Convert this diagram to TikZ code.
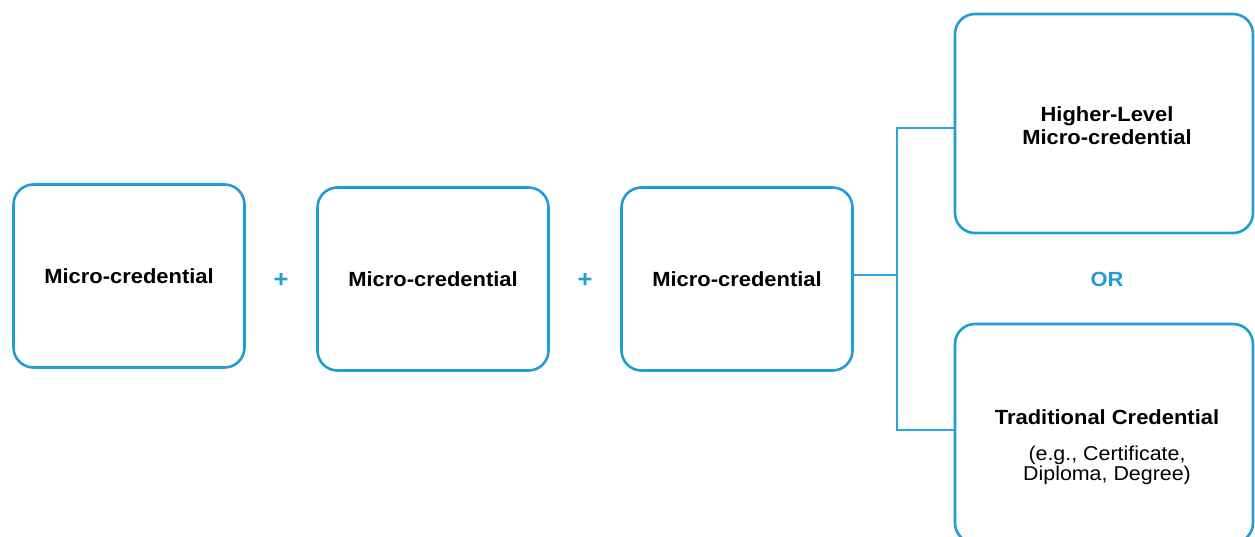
\documentclass[tikz,border=0pt]{standalone}
\usepackage{fontspec}
\setmainfont{Liberation Sans}[FakeStretch=1.07]
\usetikzlibrary{positioning}
\definecolor{credblue}{RGB}{35,155,215}
\definecolor{linkblue}{RGB}{45,165,225}

\begin{document}
\begin{tikzpicture}[x=1pt, y=-1pt,
    credbox/.style={draw=credblue, line width=2.6pt, rounded corners=20pt,
        minimum width=231pt, minimum height=183pt, inner sep=0pt,
        font=\fontsize{20.5}{22.5}\selectfont\bfseries, align=center},
    bigbox/.style={credbox, minimum width=298pt, minimum height=219pt},
    plussign/.style={text=credblue, font=\fontsize{24}{24}\selectfont\bfseries},
    link/.style={draw=linkblue, line width=2pt}]
    \useasboundingbox (0,0) rectangle (1255,537);

    % three stacked micro-credentials
    \node[credbox] (mc1) at (129,276) {Micro-credential};
    \node[credbox] (mc2) at (433,279) {Micro-credential};
    \node[credbox] (mc3) at (737,279) {Micro-credential};
    \node[plussign] (plus1) at (281,280) {+};
    \node[plussign] (plus2) at (585,280) {+};

    % the two possible outcomes
    \node[bigbox] (higher) at (1104,123.5) {};
    \node[font=\fontsize{20.5}{22.5}\selectfont\bfseries, align=center] (highername) at (1107,125.5) {Higher-Level\\Micro-credential};
    \node[bigbox] (trad) at (1104,433.5) {};
    \node[font=\fontsize{20.5}{22.5}\selectfont\bfseries] (tradname) at (1107,417.5) {Traditional Credential};
    \node[font=\fontsize{20}{20}\selectfont, align=center] (tradnote) at (1107,465) {(e.g., Certificate,\\Diploma, Degree)};
    \node[plussign, font=\fontsize{20.5}{22}\selectfont\bfseries] (or) at (1107,279) {OR};

    % fork from the last box to both outcomes
    \coordinate (fork) at (897,275);
    \coordinate (forktop) at (897,128);
    \coordinate (forkbot) at (897,430);
    \draw[link] (mc3.east |- fork) -- (fork);
    \draw[link] (forktop -| higher.west) -- (forktop) -- (forkbot) -- (forkbot -| trad.west);
\end{tikzpicture}
\end{document}
